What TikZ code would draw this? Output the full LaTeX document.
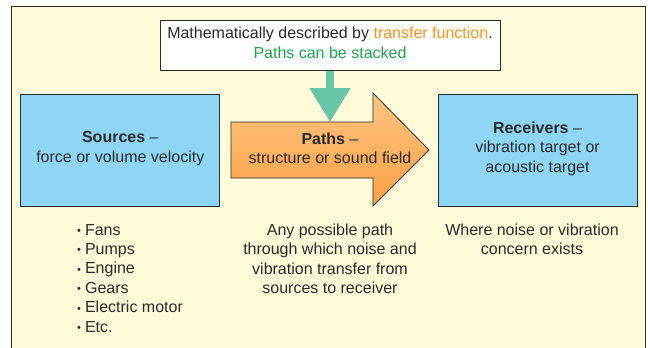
\documentclass[tikz,border=0pt]{standalone}
\usepackage{fontspec}
\setmainfont{Liberation Sans}
\usetikzlibrary{arrows.meta}
\definecolor{NVCream}{HTML}{FFFAD7}
\definecolor{NVBlue}{HTML}{8FD6F5}
\definecolor{NVTeal}{HTML}{68C5A8}
\definecolor{NVOrangeTop}{HTML}{FFC584}
\definecolor{NVOrangeBot}{HTML}{F9A043}
\definecolor{NVOrangeText}{HTML}{F7941D}
\definecolor{NVGreenText}{HTML}{1FA34A}
\definecolor{NVInk}{HTML}{2A2A2A}
\newcommand{\nvbullet}{\raisebox{0.5pt}{\fontsize{11}{11}\selectfont\textbullet}\hspace{4pt}}
\tikzset{
  nvtext/.style={text=NVInk, font=\fontsize{16}{19.4}\selectfont, inner sep=0pt, align=center,
    execute at begin node=\strut, execute at end node=\strut},
  nvbox/.style={nvtext, draw=NVInk, line width=0.8pt, fill=NVBlue, minimum width=199pt, minimum height=112pt},
}
\begin{document}
\begin{tikzpicture}[x=1pt,y=-1pt]
\useasboundingbox (0,0) rectangle (648,348);
% frame
\fill[NVCream] (11.5,6.5) rectangle (645,348);
\draw[NVInk, line width=0.8pt] (11.5,348) -- (11.5,6.5) -- (645,6.5) -- (645,348);
% boxes
\node[nvbox] (sources) at (120.3,150) {\textbf{Sources} –\\force or volume velocity};
\node[nvbox] (receivers) at (537.5,150) {\textbf{Receivers} –\\vibration target or\\acoustic target};
\node[nvtext, draw=NVInk, line width=0.8pt, fill=white, minimum width=340pt, minimum height=50pt] (desc) at (330,45.7)
  {Mathematically described by \textcolor{NVOrangeText}{transfer function}.\\\textcolor{NVGreenText}{Paths can be stacked}};
% paths arrow
\draw[NVInk, line width=0.8pt, top color=NVOrangeTop, bottom color=NVOrangeBot]
  (231,122) -- (373,122) -- (373,93) -- (429,150) -- (373,206) -- (373,178) -- (231,178) -- cycle;
\node[nvtext] (paths) at (330,151) {\textbf{Paths} –\\structure or sound field};
\coordinate (pathtop) at (330,122);
\draw[NVTeal, line width=8pt, -{Triangle[width=39pt,length=34pt]}] (desc.south) -- (pathtop);
% notes below
\node[nvtext, anchor=north west, align=left] (srclist) at (77,223.8)
  {\nvbullet Fans\\\nvbullet Pumps\\\nvbullet Engine\\\nvbullet Gears\\\nvbullet Electric motor\\\nvbullet Etc.};
\node[nvtext, anchor=north] (pathnote) at (330,223.8)
  {Any possible path\\through which noise and\\vibration transfer from\\sources to receiver};
\node[nvtext, anchor=north] (recvnote) at (532,223.8) {Where noise or vibration\\concern exists};
\end{tikzpicture}
\end{document}
